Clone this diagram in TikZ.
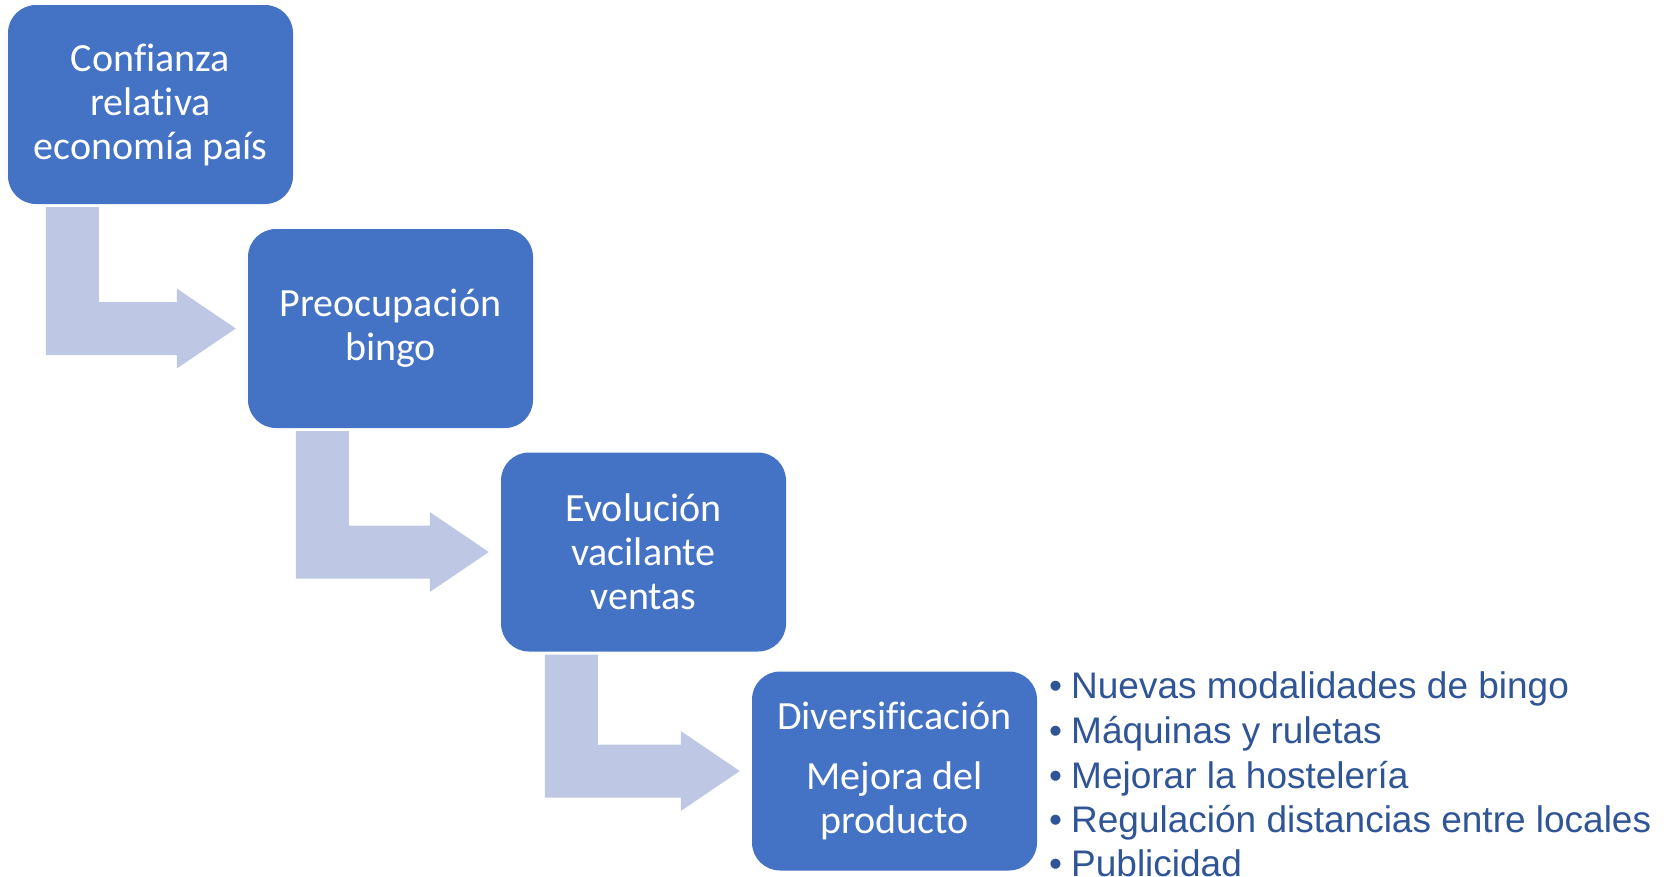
\documentclass[tikz,border=0pt]{standalone}
\usepackage{fontspec}
\setmainfont{Carlito}[Ligatures={NoCommon}]
\newfontfamily\arialf{Liberation Sans}
\usetikzlibrary{calc}
\definecolor{boxblue}{HTML}{4472C4}
\definecolor{arrowblue}{RGB}{190,200,228}
\definecolor{textblue}{HTML}{2F5597}
\tikzset{
  stagebox/.style={fill=boxblue, draw=none, rounded corners=28pt, minimum width=285pt,
    minimum height=199pt, inner sep=0pt, text=white, align=center,
    font=\fontsize{40}{44}\selectfont},
  bentarrow/.style={fill=arrowblue, draw=none},
  bulletline/.style={anchor=base west, inner sep=0pt, text=textblue,
    font=\arialf\fontsize{37}{44}\selectfont}
}
\newcommand\bendarrow[3]{%
  \path[bentarrow] let \p1=(#1.south west), \p2=(#2.west) in
    (\x1+#3, \y1-3pt) -- (\x1+#3+53pt, \y1-3pt) -- (\x1+#3+53pt, \y2+26.5pt)
    -- (\x2-71pt, \y2+26.5pt) -- (\x2-71pt, \y2+40pt) -- (\x2-12pt, \y2)
    -- (\x2-71pt, \y2-40pt) -- (\x2-71pt, \y2-26.5pt) -- (\x1+#3, \y2-26.5pt) -- cycle;}
\newcommand\blt[1]{\makebox[22pt][l]{•}#1}
\begin{document}
\begin{tikzpicture}[x=1pt,y=-1pt]
\useasboundingbox (0,0) rectangle (1671,876);
\node[stagebox] (b1) at (150.5,104.5) {Confianza\\relativa\\economía país};
\node[stagebox] (b2) at (390.5,328.5) {Preocupación\\bingo};
\node[stagebox] (b3) at (643.5,552) {Evolución\\vacilante\\ventas};
\node[stagebox] (b4) at (894.5,771) {Diversificación\\[16pt]Mejora del\\producto};
\bendarrow{b1}{b2}{38pt}
\bendarrow{b2}{b3}{48pt}
\bendarrow{b3}{b4}{44pt}
\node[bulletline] (l1) at (1049,698) {\blt{Nuevas modalidades de bingo}};
\node[bulletline] (l2) at (1049,743) {\blt{Máquinas y ruletas}};
\node[bulletline] (l3) at (1049,788) {\blt{Mejorar la hostelería}};
\node[bulletline] (l4) at (1049,832) {\blt{Regulación distancias entre locales}};
\node[bulletline] (l5) at (1049,876) {\blt{Publicidad}};
\end{tikzpicture}
\end{document}
